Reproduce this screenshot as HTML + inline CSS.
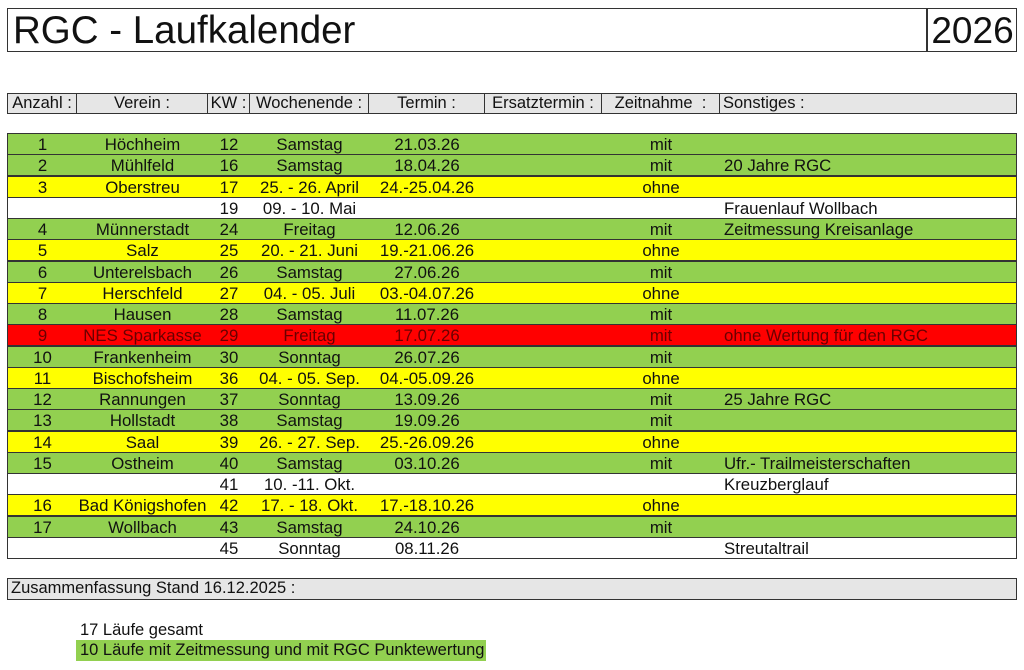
<!DOCTYPE html>
<html><head><meta charset="utf-8"><style>
body{margin:0;width:1024px;height:670px;background:#fff;position:relative;overflow:hidden;font-family:"Liberation Sans",Arial,sans-serif;color:#111}
.a{position:absolute;box-sizing:border-box}
.t{border:1.5px solid #333}
.r{position:absolute;left:7px;width:1010px;height:22px;border:1.5px solid #333;box-sizing:border-box;font-size:16.8px}
.r span{position:absolute;top:1px;line-height:20px;white-space:nowrap;text-align:center}
.c1{left:0;width:69px}.c2{left:69px;width:131px}.c3{left:200px;width:42px}.c4{left:242px;width:119px}.c5{left:361px;width:116px}.c7{left:594px;width:118px}.c8{left:716px;text-align:left!important}
.g{background:#92d050}.y{background:#ffff00}.w{background:#fff}.rd{background:#ff0000;color:#6a0000}
.h{position:absolute;top:93px;height:21px;background:#e6e6e6;border:1.5px solid #333;box-sizing:border-box;font-size:16.5px;line-height:19px;text-align:center;white-space:nowrap}
</style></head><body>
<div class="a t" style="left:7px;top:8px;width:1010px;height:44px"></div>
<div class="a" style="left:926px;top:8px;width:1.5px;height:44px;background:#333"></div>
<div class="a" style="left:13px;top:10px;font-size:38.5px;line-height:42px;white-space:nowrap">RGC - Laufkalender</div>
<div class="a" style="left:926px;top:10px;width:93px;text-align:center;font-size:37px;line-height:42px">2026</div>

<div class="h" style="left:7px;width:70px">Anzahl :</div>
<div class="h" style="left:76px;width:132px">Verein :</div>
<div class="h" style="left:207px;width:43px">KW :</div>
<div class="h" style="left:249px;width:120px">Wochenende :</div>
<div class="h" style="left:368px;width:117px">Termin :</div>
<div class="h" style="left:484px;width:118px">Ersatztermin :</div>
<div class="h" style="left:601px;width:119px">Zeitnahme&nbsp; :</div>
<div class="h" style="left:719px;width:298px;text-align:left;padding-left:3px">Sonstiges :</div>

<div class="r g" style="top:133px"><span class="c1">1</span><span class="c2">Höchheim</span><span class="c3">12</span><span class="c4">Samstag</span><span class="c5">21.03.26</span><span class="c7">mit</span></div>
<div class="r g" style="top:154px"><span class="c1">2</span><span class="c2">Mühlfeld</span><span class="c3">16</span><span class="c4">Samstag</span><span class="c5">18.04.26</span><span class="c7">mit</span><span class="c8">20 Jahre RGC</span></div>
<div class="r y" style="top:176px"><span class="c1">3</span><span class="c2">Oberstreu</span><span class="c3">17</span><span class="c4">25. - 26. April</span><span class="c5">24.-25.04.26</span><span class="c7">ohne</span></div>
<div class="r w" style="top:197px"><span class="c3">19</span><span class="c4">09. - 10. Mai</span><span class="c8">Frauenlauf Wollbach</span></div>
<div class="r g" style="top:218px"><span class="c1">4</span><span class="c2">Münnerstadt</span><span class="c3">24</span><span class="c4">Freitag</span><span class="c5">12.06.26</span><span class="c7">mit</span><span class="c8">Zeitmessung Kreisanlage</span></div>
<div class="r y" style="top:239px"><span class="c1">5</span><span class="c2">Salz</span><span class="c3">25</span><span class="c4">20. - 21. Juni</span><span class="c5">19.-21.06.26</span><span class="c7">ohne</span></div>
<div class="r g" style="top:261px"><span class="c1">6</span><span class="c2">Unterelsbach</span><span class="c3">26</span><span class="c4">Samstag</span><span class="c5">27.06.26</span><span class="c7">mit</span></div>
<div class="r y" style="top:282px"><span class="c1">7</span><span class="c2">Herschfeld</span><span class="c3">27</span><span class="c4">04. - 05. Juli</span><span class="c5">03.-04.07.26</span><span class="c7">ohne</span></div>
<div class="r g" style="top:303px"><span class="c1">8</span><span class="c2">Hausen</span><span class="c3">28</span><span class="c4">Samstag</span><span class="c5">11.07.26</span><span class="c7">mit</span></div>
<div class="r rd" style="top:324px"><span class="c1">9</span><span class="c2">NES Sparkasse</span><span class="c3">29</span><span class="c4">Freitag</span><span class="c5">17.07.26</span><span class="c7">mit</span><span class="c8">ohne Wertung für den RGC</span></div>
<div class="r g" style="top:346px"><span class="c1">10</span><span class="c2">Frankenheim</span><span class="c3">30</span><span class="c4">Sonntag</span><span class="c5">26.07.26</span><span class="c7">mit</span></div>
<div class="r y" style="top:367px"><span class="c1">11</span><span class="c2">Bischofsheim</span><span class="c3">36</span><span class="c4">04. - 05. Sep.</span><span class="c5">04.-05.09.26</span><span class="c7">ohne</span></div>
<div class="r g" style="top:388px"><span class="c1">12</span><span class="c2">Rannungen</span><span class="c3">37</span><span class="c4">Sonntag</span><span class="c5">13.09.26</span><span class="c7">mit</span><span class="c8">25 Jahre RGC</span></div>
<div class="r g" style="top:409px"><span class="c1">13</span><span class="c2">Hollstadt</span><span class="c3">38</span><span class="c4">Samstag</span><span class="c5">19.09.26</span><span class="c7">mit</span></div>
<div class="r y" style="top:431px"><span class="c1">14</span><span class="c2">Saal</span><span class="c3">39</span><span class="c4">26. - 27. Sep.</span><span class="c5">25.-26.09.26</span><span class="c7">ohne</span></div>
<div class="r g" style="top:452px"><span class="c1">15</span><span class="c2">Ostheim</span><span class="c3">40</span><span class="c4">Samstag</span><span class="c5">03.10.26</span><span class="c7">mit</span><span class="c8">Ufr.- Trailmeisterschaften</span></div>
<div class="r w" style="top:473px"><span class="c3">41</span><span class="c4">10. -11. Okt.</span><span class="c8">Kreuzberglauf</span></div>
<div class="r y" style="top:494px"><span class="c1">16</span><span class="c2">Bad Königshofen</span><span class="c3">42</span><span class="c4">17. - 18. Okt.</span><span class="c5">17.-18.10.26</span><span class="c7">ohne</span></div>
<div class="r g" style="top:516px"><span class="c1">17</span><span class="c2">Wollbach</span><span class="c3">43</span><span class="c4">Samstag</span><span class="c5">24.10.26</span><span class="c7">mit</span></div>
<div class="r w" style="top:537px"><span class="c3">45</span><span class="c4">Sonntag</span><span class="c5">08.11.26</span><span class="c8">Streutaltrail</span></div>

<div class="h" style="left:7px;top:578px;width:1010px;height:22px;text-align:left;padding-left:3px">Zusammenfassung Stand 16.12.2025 :</div>
<div class="a" style="left:80px;top:621px;font-size:16.5px;line-height:19px;white-space:nowrap">17 Läufe gesamt</div>
<div class="a" style="left:76px;top:640px;width:410px;height:21px;background:#92d050;font-size:16.5px;line-height:21px;padding-left:4px;white-space:nowrap">10 Läufe mit Zeitmessung und mit RGC Punktewertung</div>
</body></html>
